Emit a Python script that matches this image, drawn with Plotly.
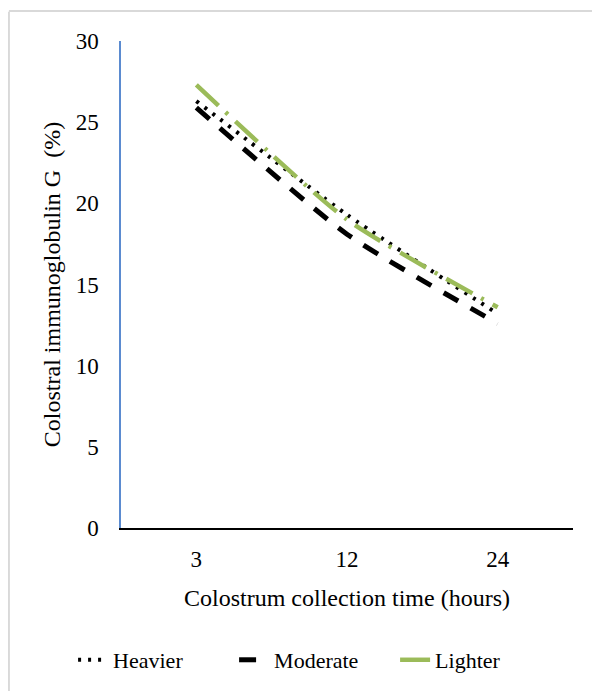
import plotly.graph_objects as go

categories = ["3", "12", "24"]
heavier = [26.3, 19.3, 13.2]
moderate = [25.9, 18.1, 12.6]
lighter = [27.3, 19.0, 13.6]
y_ticks = [0, 5, 10, 15, 20, 25, 30]

FONT = "Liberation Serif"

fig = go.Figure()
fig.add_trace(go.Scatter(
    x=categories, y=heavier, name="Heavier", mode="lines",
    line=dict(color="black", width=4, dash="3px,7px", shape="spline", smoothing=0.6),
))
fig.add_trace(go.Scatter(
    x=categories, y=moderate, name="Moderate", mode="lines",
    line=dict(color="black", width=5, dash="17px,14px", shape="spline", smoothing=0.6),
))
fig.add_trace(go.Scatter(
    x=categories, y=lighter, name="Lighter", mode="lines",
    line=dict(color="#9BBB59", width=4.5, dash="30px,10px,3px,10px", shape="spline", smoothing=0.6),
))

fig.update_layout(
    width=600, height=691,
    margin=dict(l=113, r=35, t=33, b=171),
    paper_bgcolor="white", plot_bgcolor="white",
    font=dict(family=FONT, color="black", size=23),
    showlegend=True,
    legend=dict(orientation="h", x=-0.106, xanchor="left", y=-0.271, yanchor="middle",
                font=dict(family=FONT, size=22, color="black"), traceorder="normal",
                entrywidth=116, entrywidthmode="pixels"),
    xaxis=dict(
        type="category", showgrid=False, zeroline=False,
        showline=True, linecolor="#000000", linewidth=1.5,
        ticks="", tickfont=dict(family=FONT, size=23), ticklabelstandoff=10,
        title=dict(text="Colostrum collection time (hours)", font=dict(family=FONT, size=24), standoff=18),
        range=[-0.5, 2.5],
    ),
    yaxis=dict(
        range=[0, 30], tickvals=y_ticks, showgrid=False, zeroline=False,
        showline=True, linecolor="#5B8BD0", linewidth=1.5,
        ticks="", tickfont=dict(family=FONT, size=23), ticklabelstandoff=16,
        title=dict(text="Colostral immunoglobulin G\u00a0\u00a0(%)", font=dict(family=FONT, size=24), standoff=8),
    ),
    shapes=[
        dict(type="line", xref="paper", yref="paper", x0=-0.248, x1=-0.248, y0=1.06, y1=-0.36,
             line=dict(color="#D9D9D9", width=2)),
        dict(type="line", xref="paper", yref="paper", x0=-0.248, x1=1.1, y0=1.0616, y1=1.0616,
             line=dict(color="#D9D9D9", width=2)),
    ],
)

fig.write_html("out.html")
